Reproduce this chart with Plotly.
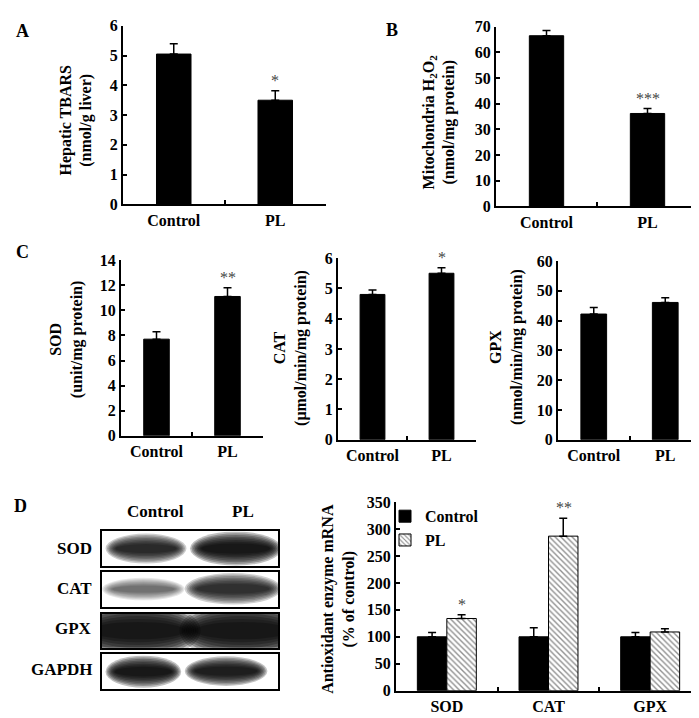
import plotly.graph_objects as go

W, H = 699, 718

groups = ["Control", "PL"]

# A - hepatic TBARS
tbars = [5.05, 3.5]
tbars_err = [0.35, 0.32]
# B - mitochondria H2O2
h2o2 = [66.5, 36.2]
h2o2_err = [2.0, 1.9]
# C - enzyme activities
sod_act = [7.7, 11.1]
sod_act_err = [0.6, 0.7]
cat_act = [4.8, 5.5]
cat_act_err = [0.15, 0.18]
gpx_act = [42.2, 46.1]
gpx_act_err = [2.2, 1.6]
# D - mRNA
enzymes = ["SOD", "CAT", "GPX"]
mrna_ctrl = [100, 100, 100]
mrna_ctrl_err = [8, 17, 8]
mrna_pl = [134, 287, 109]
mrna_pl_err = [7, 33, 6]
# western blot band darkness (control, PL)
blot_rows = ["SOD", "CAT", "GPX", "GAPDH"]
blot_dark = [[0.72, 0.92], [0.35, 0.68], [0.95, 0.95], [0.92, 0.85]]

FONT = "Liberation Serif"


def fx(px):
    return px / W


def fy(py):
    return 1 - py / H


fig = go.Figure()


def bar(x, y, err, ax, w, off, **kw):
    fig.add_trace(go.Bar(
        x=x, y=y, width=w, offset=off,
        xaxis="x" + ax, yaxis="y" + ax,
        error_y=dict(type="data", array=err, arrayminus=[0] * len(err),
                     color="black", thickness=1.5, width=4),
        **kw))


black = dict(color="black", line=dict(color="black", width=1))
bar(groups, tbars, tbars_err, "", 0.34, -0.17, marker=black, showlegend=False)
bar(groups, h2o2, h2o2_err, "2", 0.34, -0.17, marker=black, showlegend=False)
bar(groups, sod_act, sod_act_err, "3", 0.36, -0.18, marker=black, showlegend=False)
bar(groups, cat_act, cat_act_err, "4", 0.36, -0.18, marker=black, showlegend=False)
bar(groups, gpx_act, gpx_act_err, "5", 0.36, -0.18, marker=black, showlegend=False)
bar(enzymes, mrna_ctrl, mrna_ctrl_err, "6", 0.29, -0.29, marker=black, name="Control")
bar(enzymes, mrna_pl, mrna_pl_err, "6", 0.29, 0.0, name="PL",
    marker=dict(color="white", line=dict(color="black", width=1),
                pattern=dict(shape="\\", fgcolor="#222", bgcolor="white",
                             size=4, solidity=0.35)))

# (axis suffix, x px span, y px span (top, bottom), y range, dtick)
panels = [
    ("", (115, 318), (10, 193), 6, 1),
    ("2", (488, 690), (11, 195), 70, 10),
    ("3", (113, 255), (250, 430), 14, 2),
    ("4", (330, 468), (248, 434), 6, 1),
    ("5", (550, 693), (251, 434), 60, 10),
    ("6", (388, 693), (498, 691), 350, 50),
]

tfont = dict(family=FONT, size=16, color="black", weight="bold")
lay = {}
for ax, (x0, x1), (y0, y1), top, dt in panels:
    lay["xaxis" + ax] = dict(
        domain=[fx(x0), fx(x1)], anchor="y" + ax, type="category",
        showline=True, linecolor="black", linewidth=2,
        ticks="inside", tickson="boundaries", ticklen=4, tickwidth=2,
        tickcolor="black", tickfont=tfont, showgrid=False, zeroline=False)
    lay["yaxis" + ax] = dict(
        domain=[fy(y1), fy(y0)], anchor="x" + ax, range=[0, top], dtick=dt,
        showline=True, linecolor="black", linewidth=2,
        ticks="inside", ticklen=4, tickwidth=2, tickcolor="black",
        tickfont=tfont, showgrid=False, zeroline=False)

# western blot boxes as small axes
boxes = [(528, 563), (569, 605), (612, 647), (653, 689)]
for i, (b0, b1) in enumerate(boxes):
    ax = str(7 + i)
    lay["xaxis" + ax] = dict(domain=[fx(94), fx(270)], anchor="y" + ax,
                             range=[0, 1], showline=True, mirror=True,
                             linecolor="black", linewidth=2, showticklabels=False,
                             ticks="", showgrid=False, zeroline=False)
    lay["yaxis" + ax] = dict(domain=[fy(b1), fy(b0)], anchor="x" + ax,
                             range=[0, 1], showline=True, mirror=True,
                             linecolor="black", linewidth=2, showticklabels=False,
                             ticks="", showgrid=False, zeroline=False)
    fig.add_trace(go.Scatter(x=[None], y=[None], xaxis="x" + ax, yaxis="y" + ax,
                             mode="lines", showlegend=False, hoverinfo="skip"))

# band extents inside each box (x0, x1, y0, y1) for control / PL lanes
band_geo = [
    [(0.02, 0.48, 0.06, 0.94), (0.5, 1.02, 0.0, 1.0)],
    [(0.0, 0.47, 0.18, 0.82), (0.47, 1.02, 0.06, 0.96)],
    [(-0.15, 0.56, -0.35, 1.35), (0.44, 1.15, -0.35, 1.35)],
    [(0.02, 0.45, 0.03, 0.94), (0.47, 0.94, 0.08, 0.92)],
]
shapes = []
layers = [1.0, 0.9, 0.8, 0.7, 0.6, 0.5, 0.4, 0.3]
for i in range(len(blot_rows)):
    ax = str(7 + i)
    for lane in range(2):
        x0, x1, y0, y1 = band_geo[i][lane]
        cx, cy, hw, hh = (x0 + x1) / 2, (y0 + y1) / 2, (x1 - x0) / 2, (y1 - y0) / 2
        a = blot_dark[i][lane] * 0.27
        for s in layers:
            sx = 1 - (1 - s) * 0.35
            shapes.append(dict(type="circle", xref="x" + ax, yref="y" + ax,
                               x0=cx - hw * sx, x1=cx + hw * sx,
                               y0=cy - hh * s, y1=cy + hh * s,
                               fillcolor="black", opacity=a, line=dict(width=0),
                               layer="below"))

ann = []


def text(px, py, t, size=16, xanchor="center", angle=0, bold=True, color="black"):
    ann.append(dict(x=fx(px), y=fy(py), xref="paper", yref="paper", text=t,
                    showarrow=False, xanchor=xanchor, yanchor="middle",
                    textangle=angle,
                    font=dict(family=FONT, size=size, color=color,
                              weight="bold" if bold else "normal")))


# panel letters
text(14, 15, "A", 18)
text(384, 14, "B", 18)
text(14, 242, "C", 18)
text(12, 502, "D", 18)

# y-axis titles
text(68, 107, "Hepatic TBARS<br>(nmol/g liver)", angle=-90)
text(431, 109, "Mitochondria H<sub>2</sub>O<sub>2</sub><br>(nmol/mg protein)", angle=-90)
text(58, 332, "SOD<br>(unit/mg protein)", angle=-90)
text(283, 340, "CAT<br>(μmol/min/mg protein)", angle=-90)
text(499, 339, "GPX<br>(nmol/min/mg protein)", angle=-90)
text(331, 597, "Antioxidant enzyme mRNA<br>(% of control)", angle=-90)

# blot labels
text(147, 508, "Control", 17)
text(235, 508, "PL", 17)
for lbl, py in zip(blot_rows, [545, 586, 627, 669]):
    text(86, py, lbl, 17, xanchor="right")


# significance stars
def star(ax, x, y, t, xshift=0):
    ann.append(dict(x=x, y=y, xref="x" + ax, yref="y" + ax, text=t,
                    showarrow=False, yanchor="bottom", xshift=xshift,
                    font=dict(family=FONT, size=16, color="#444")))


star("", "PL", tbars[1] + tbars_err[1], "*")
star("2", "PL", h2o2[1] + h2o2_err[1], "***")
star("3", "PL", sod_act[1] + sod_act_err[1], "**")
star("4", "PL", cat_act[1] + cat_act_err[1], "*")
star("6", "SOD", mrna_pl[0] + mrna_pl_err[0], "*", 15)
star("6", "CAT", mrna_pl[1] + mrna_pl_err[1], "**", 15)

fig.update_layout(
    width=W, height=H, margin=dict(l=0, r=0, t=0, b=0),
    paper_bgcolor="white", plot_bgcolor="white",
    font=dict(family=FONT, size=16, color="black"),
    barmode="overlay",
    legend=dict(x=fx(377), y=fy(495), xanchor="left", yanchor="top",
                bgcolor="rgba(0,0,0,0)", font=tfont, tracegroupgap=0,
                itemwidth=30),
    shapes=shapes, annotations=ann, **lay)

fig.write_html("out.html")
